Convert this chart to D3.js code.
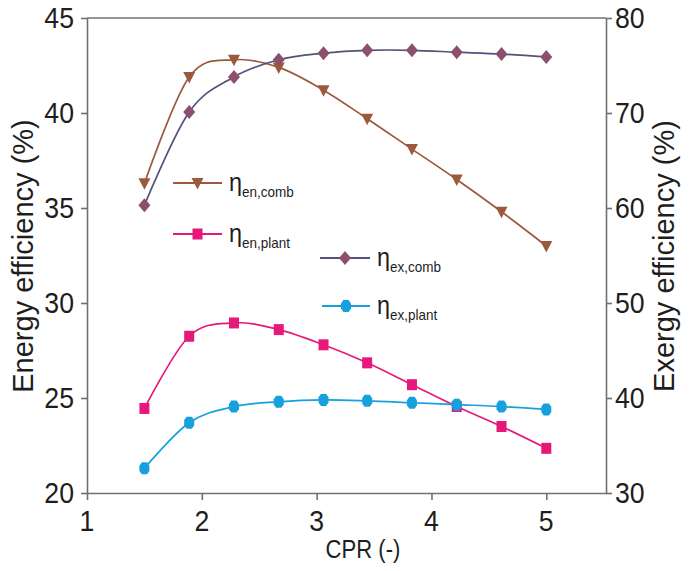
<!DOCTYPE html>
<html>
<head>
<meta charset="utf-8">
<script src="https://cdn.jsdelivr.net/npm/d3@7"></script>
<style>
  html, body { margin: 0; padding: 0; background: #fff; }
  svg text { font-family: "Liberation Sans", Arial, sans-serif; fill: #1e1e1e; }
</style>
</head>
<body>
<svg id="chart" width="689" height="571"></svg>
<script>
// ---- data ----
const cpr     = [1.5, 1.89, 2.28, 2.67, 3.06, 3.44, 3.83, 4.22, 4.61, 5.0];
const enComb  = [36.3, 41.9, 42.8, 42.4, 41.2, 39.7, 38.1, 36.5, 34.8, 33.0];
const enPlant = [24.45, 28.25, 28.95, 28.6, 27.8, 26.85, 25.7, 24.55, 23.5, 22.35];
const exComb  = [60.3, 70.1, 73.8, 75.6, 76.3, 76.6, 76.6, 76.4, 76.2, 75.9];
const exPlant = [32.6, 37.4, 39.1, 39.6, 39.8, 39.7, 39.5, 39.3, 39.1, 38.8];

const xTicks  = [1, 2, 3, 4, 5];
const yLTicks = [20, 25, 30, 35, 40, 45];
const yRTicks = [30, 40, 50, 60, 70, 80];

const xLabel  = "CPR (-)";
const yLLabel = "Energy efficiency (%)";
const yRLabel = "Exergy efficiency (%)";

const series = [
  { name: "en,comb",  values: enComb,  axis: "L", line: "#9b5a3c", fill: "#9b5a3c", marker: "tri" },
  { name: "en,plant", values: enPlant, axis: "L", line: "#e6197a", fill: "#e6197a", marker: "sq" },
  { name: "ex,comb",  values: exComb,  axis: "R", line: "#55507c", fill: "#8c506e", marker: "dia" },
  { name: "ex,plant", values: exPlant, axis: "R", line: "#16a0dc", fill: "#16a0dc", marker: "ell" }
];

// ---- layout ----
const svg = d3.select("#chart");
const mLeft = 87, mRight = 606, mTop = 18, mBottom = 493;

const x  = d3.scaleLinear().domain([1, 5.52]).range([mLeft, mRight]);
const yL = d3.scaleLinear().domain([20, 45]).range([mBottom, mTop]);
const yR = d3.scaleLinear().domain([30, 80]).range([mBottom, mTop]);

const axisColor = "#707070";

function stext(g, px, py, str, size, anchor, sx = 1) {
  return g.append("text")
    .attr("transform", `translate(${px},${py}) scale(${sx},1)`)
    .attr("text-anchor", anchor)
    .style("font-size", size + "px")
    .text(str);
}

// axes
const gx = svg.append("g").attr("transform", `translate(0,${mBottom})`)
  .call(d3.axisBottom(x).tickValues(xTicks).tickSize(7).tickSizeOuter(0).tickFormat(""));
const gl = svg.append("g").attr("transform", `translate(${mLeft},0)`)
  .call(d3.axisLeft(yL).tickValues(yLTicks).tickSize(6).tickSizeOuter(0).tickFormat(""));
const gr = svg.append("g").attr("transform", `translate(${mRight},0)`)
  .call(d3.axisRight(yR).tickValues(yRTicks).tickSize(6).tickSizeOuter(0).tickFormat(""));
[gx, gl, gr].forEach(g => {
  g.selectAll("path.domain").attr("stroke", axisColor).attr("stroke-width", 1.6);
  g.selectAll(".tick line").attr("stroke", axisColor).attr("stroke-width", 1.6);
});
svg.append("line").attr("x1", mLeft).attr("x2", mRight).attr("y1", mTop).attr("y2", mTop)
  .attr("stroke", axisColor).attr("stroke-width", 1.6);

// tick labels
const labels = svg.append("g");
xTicks.forEach(t => stext(labels, x(t), 531, String(t), 29, "middle", 0.92));
yLTicks.forEach(t => stext(labels, 74, yL(t) + 10, String(t), 29, "end", 0.92));
yRTicks.forEach(t => stext(labels, 615, yR(t) + 10, String(t), 29, "start", 0.92));

// axis titles
stext(labels, 363, 558, xLabel, 26, "middle", 0.85);
labels.append("text")
  .attr("transform", `translate(33,256) rotate(-90)`)
  .attr("text-anchor", "middle").style("font-size", "29px").text(yLLabel);
labels.append("text")
  .attr("transform", `translate(674,256) rotate(-90)`)
  .attr("text-anchor", "middle").style("font-size", "29px").text(yRLabel);

// markers
function markerPath(type) {
  switch (type) {
    case "tri": return "M-6,-5 L6,-5 L0,6.5 Z";
    case "sq":  return "M-5,-5.5 L5,-5.5 L5,5.5 L-5,5.5 Z";
    case "dia": return "M0,-7 L6,0 L0,7 L-6,0 Z";
    case "ell": return "M-2.6,-6 L2.6,-6 L5,-2.6 L5,2.6 L2.6,6 L-2.6,6 L-5,2.6 L-5,-2.6 Z";
  }
}

// lines
const plot = svg.append("g");
series.forEach(s => {
  const ys = s.axis === "L" ? yL : yR;
  const line = d3.line().x((d, i) => x(cpr[i])).y(d => ys(d)).curve(d3.curveCardinal.tension(0));
  plot.append("path").datum(s.values).attr("d", line)
    .attr("fill", "none").attr("stroke", s.line).attr("stroke-width", 1.7);
});
series.forEach(s => {
  const ys = s.axis === "L" ? yL : yR;
  plot.selectAll(null).data(s.values).join("path")
    .attr("transform", (d, i) => `translate(${x(cpr[i])},${ys(d)})`)
    .attr("d", markerPath(s.marker)).attr("fill", s.fill);
});

// legend
const legendPos = [
  { x1: 173, x2: 222, y: 183, tx: 229 },
  { x1: 173, x2: 222, y: 234, tx: 229 },
  { x1: 320, x2: 370, y: 258, tx: 377 },
  { x1: 322, x2: 370, y: 306, tx: 377 }
];
const lg = svg.append("g");
series.forEach((s, i) => {
  const p = legendPos[i];
  lg.append("line").attr("x1", p.x1).attr("x2", p.x2).attr("y1", p.y).attr("y2", p.y)
    .attr("stroke", s.line).attr("stroke-width", 2);
  lg.append("path").attr("transform", `translate(${(p.x1 + p.x2) / 2},${p.y})`)
    .attr("d", markerPath(s.marker)).attr("fill", s.fill);
  const t = lg.append("text")
    .attr("transform", `translate(${p.tx},${p.y + 8}) scale(0.9,1)`)
    .style("font-size", "26px");
  t.append("tspan").text("η");
  t.append("tspan").attr("dy", 6).style("font-size", "15px").text(s.name);
});
</script>
</body>
</html>
